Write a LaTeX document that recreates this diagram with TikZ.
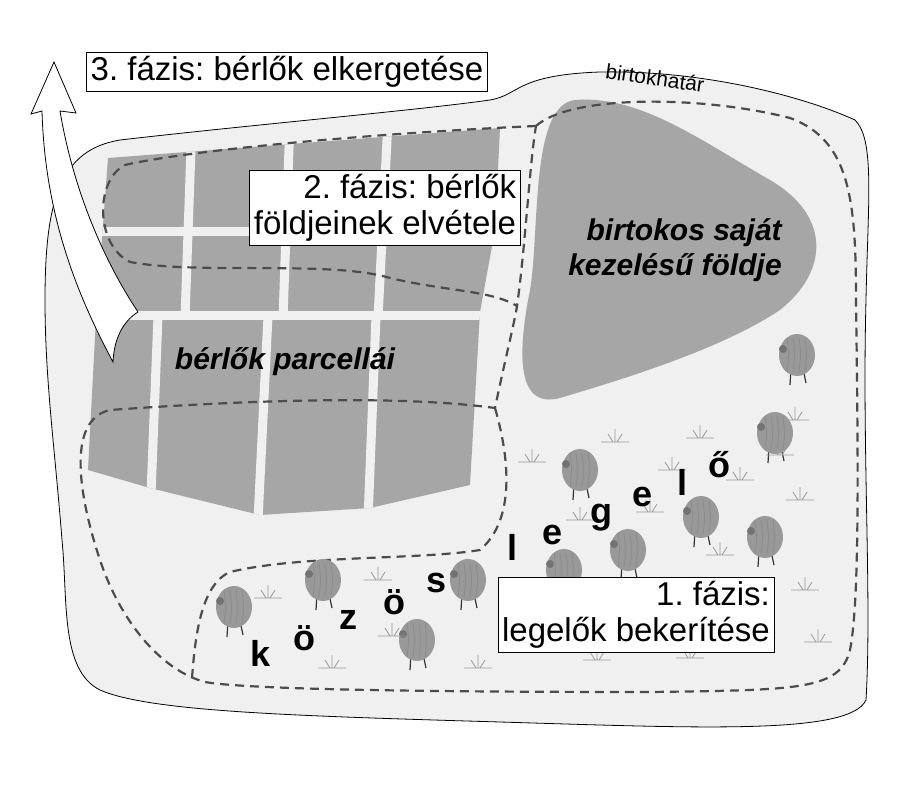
\documentclass[tikz,border=0pt]{standalone}
\usepackage{fontspec}
\setmainfont{Liberation Sans}
\usetikzlibrary{calc}
\frenchspacing
\definecolor{landgray}{gray}{0.94}
\definecolor{plotgray}{gray}{0.65}
\definecolor{sheepgray}{gray}{0.6}
\tikzset{sheep/.pic={
  \begin{scope}
    \draw[very thick,black!80] (-6,14) -- (-7,30) (6,14) -- (9,28);
    \fill[sheepgray] (0,0) ellipse (18 and 21);
    \foreach \sx in {-10,-4,2,8}
      \draw[black!45,line width=0.8pt] (\sx,-17) .. controls (\sx+2,0) .. (\sx,17);
    \fill[black!55] (-14,-6) circle (4);
  \end{scope}
}}
\tikzset{grass/.pic={
  \draw[black!40,line width=0.8pt] (-14,0) -- (14,0)
    (0,0) -- (0,-13) (-2,0) -- (-7,-8) (2,0) -- (7,-8);
}}
\tikzset{
  phase/.style={draw,thick,fill=white,inner sep=4pt,font=\fontsize{33}{36}\selectfont},
  field/.style={font=\fontsize{30}{35}\selectfont\bfseries\itshape,align=right},
  letter/.style={font=\fontsize{36}{38}\selectfont\bfseries},
  fence/.style={line width=2.2pt,black!70,dash pattern=on 9pt off 6pt}
}

\begin{document}
\begin{tikzpicture}[x=1pt,y=-1pt]
  \useasboundingbox (0,0) rectangle (903,786);
  % the estate
  \draw[fill=landgray,thick] (45,300) .. controls (45,200) and (60,150) .. (120,140)
    .. controls (250,125) and (420,110) .. (490,100)
    .. controls (520,95) and (515,75) .. (600,72)
    .. controls (700,70) and (800,95) .. (855,120)
    .. controls (875,140) and (868,200) .. (866,300)
    .. controls (862,450) and (872,600) .. (866,700)
    .. controls (850,735) and (700,728) .. (500,722)
    .. controls (300,716) and (150,712) .. (100,690)
    .. controls (60,670) and (68,600) .. (62,540)
    .. controls (55,450) and (45,380) .. (45,300) -- cycle;
  % tenants' plots
  \begin{scope}
    \clip (108,158) -- (500,128) -- (495,230) -- (480,312) -- (470,485)
      -- (370,508) -- (260,515) -- (150,488) -- (88,470) -- (96,318) -- cycle;
    \fill[plotgray] (0,0) rectangle (600,600);
    \foreach \ya/\yb in {232/232,316/316}
      \draw[landgray,line width=9pt] (80,\ya) -- (520,\yb);
    \foreach \xa/\xb in {192/185,290/283,388/378}
      \draw[landgray,line width=9pt] (\xa,120) -- (\xb,318);
    \foreach \xa/\xb in {158/150,268/258,376/368}
      \draw[landgray,line width=9pt] (\xa,316) -- (\xb,520);
  \end{scope}
  % lord's demesne
  \fill[plotgray] (575,100) .. controls (640,95) and (700,140) .. (770,180)
    .. controls (830,215) and (830,270) .. (780,310)
    .. controls (720,350) and (620,380) .. (560,398)
    .. controls (515,410) and (518,350) .. (530,290)
    .. controls (540,230) and (530,105) .. (575,100) -- cycle;
  % fences
  \draw[fence] (536,126) .. controls (570,95) and (700,95) .. (790,118)
    .. controls (850,140) and (856,200) .. (856,300)
    .. controls (858,450) and (860,600) .. (850,650)
    .. controls (840,690) and (800,690) .. (650,692)
    .. controls (450,692) and (250,690) .. (205,682)
    .. controls (160,670) and (120,620) .. (100,560)
    .. controls (80,500) and (65,420) .. (110,410)
    .. controls (250,400) and (400,395) .. (495,408)
    .. controls (505,360) and (515,320) .. (517,306)
    .. controls (525,250) and (530,160) .. (536,126);
  \draw[fence] (495,408) .. controls (510,460) and (515,520) .. (480,550)
    .. controls (420,560) and (300,555) .. (230,572)
    .. controls (200,585) and (195,640) .. (192,678);
  \draw[fence] (536,126) .. controls (400,132) and (200,148) .. (125,165)
    .. controls (95,180) and (95,245) .. (130,262)
    .. controls (200,275) and (330,260) .. (390,278)
    .. controls (450,292) and (490,290) .. (517,306);
  % sheep
  \foreach \sx/\sy in {234/607,323/580,468/580,417/640,580/470,701/517,628/550,
      564/570,765/537,775/433,797/355}
    \pic at (\sx,\sy) {sheep};
  % grass
  \foreach \gx/\gy in {268/598,332/668,378/580,392/636,478/668,532/462,580/520,
      615/442,650/512,672/470,700/438,720/555,740/480,795/420,805/590,
      800/500,780/455,818/642,690/658,597/660}
    \pic at (\gx,\gy) {grass};
  % arrow
  \draw[fill=white,line width=0.8pt] (54,62) -- (76,113) -- (60,111)
    .. controls (75,200) and (110,270) .. (138,312)
    .. controls (122,322) and (114,340) .. (113,362)
    .. controls (80,300) and (45,220) .. (42,111) -- (31,114) -- cycle;
  % labels
  \node[phase] (phase3) at (287,72) {3. fázis: bérlők elkergetése};
  \node[phase,align=right] (phase2) at (385,208) {2. fázis: bérlők\\földjeinek elvétele};
  \node[phase,align=right] (phase1) at (636,615) {1. fázis:\\legelők bekerítése};
  \node[field] (plots) at (285,362) {bérlők parcellái};
  \node[field] (demesne) at (675,250) {birtokos saját\\kezelésű földje};
  \node[rotate=-8,font=\fontsize{21}{22}\selectfont] (border) at (655,78) {birtokhatár};
  \foreach \ch/\lx/\ly [count=\i] in {k/261/653,ö/304/638,z/348/620,ö/394/602,s/437/583,
      l/512/547,e/553/535,g/601/518,e/643/497,l/682/482,ő/719/465}
    \node[letter] (common\i) at (\lx,\ly) {\ch};
\end{tikzpicture}
\end{document}
